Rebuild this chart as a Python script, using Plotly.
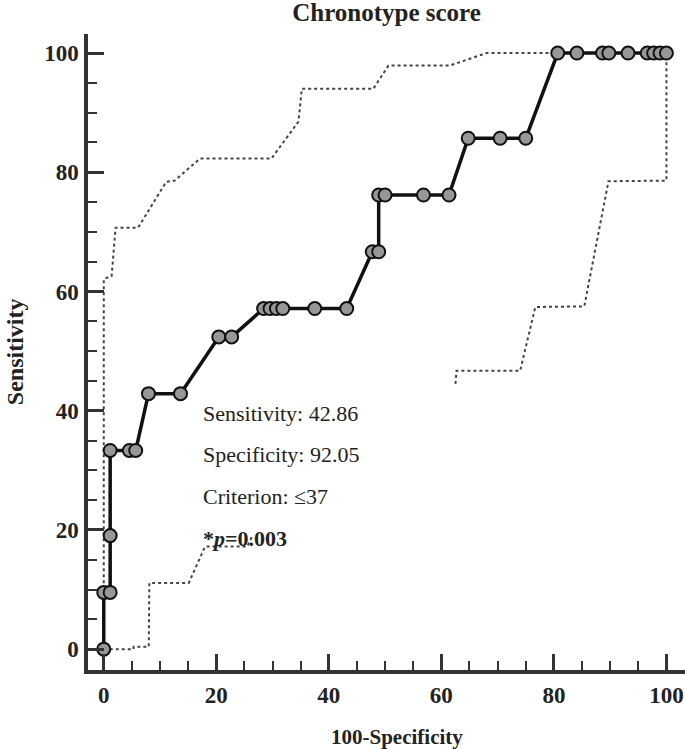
import plotly.graph_objects as go

# ROC curve (100-Specificity, Sensitivity)
roc_x = [0, 0, 1.14, 1.14, 1.14, 4.55, 5.68, 7.95, 13.64, 20.45, 22.73,
         28.41, 29.55, 30.68, 31.82, 37.5, 43.18, 47.73, 48.86, 48.86, 50.0,
         56.82, 61.36, 64.77, 70.45, 75.0, 80.68, 84.09, 88.64, 89.77, 93.18,
         96.59, 97.73, 98.86, 100]
roc_y = [0, 9.52, 9.52, 19.05, 33.33, 33.33, 33.33, 42.86, 42.86, 52.38, 52.38,
         57.14, 57.14, 57.14, 57.14, 57.14, 57.14, 66.67, 66.67, 76.19, 76.19,
         76.19, 76.19, 85.71, 85.71, 85.71, 100, 100, 100, 100, 100,
         100, 100, 100, 100]

# Upper confidence bound
upper_x = [0, 0, 1.4, 2.1, 6.1, 11.1, 12.6, 17.1, 29.8, 34.6, 35.2, 47.9,
           50.6, 61.5, 68.0, 80.0]
upper_y = [0, 62.1, 62.6, 70.7, 70.7, 78.4, 78.6, 82.3, 82.3, 88.5, 94.0, 94.0,
           97.9, 97.9, 100, 100]

# Lower confidence bound (partly hidden behind the text box)
lower_x = [0, 5.3, 5.3, 8.0, 8.1, 15.1, 18.0, 25.5, 26.4, None,
           62.5, 62.7, 74.0, 76.7, 85.4, 89.7, 100.0, 100.0]
lower_y = [0, 0, 0.4, 0.4, 11.1, 11.1, 17.2, 17.2, 19.0, None,
           44.5, 46.7, 46.7, 57.4, 57.5, 78.5, 78.6, 99.5]

stats_text = ["Sensitivity: 42.86", "Specificity: 92.05", "Criterion: \u226437",
              "<b>*<i>p</i>=0.003</b>"]
stats_y = [39.6, 32.6, 25.6, 18.6]

tick_vals = [0, 20, 40, 60, 80, 100]

SERIF = "Liberation Serif"
AX = "#333333"
TXT = "#222222"

fig = go.Figure()
fig.add_trace(go.Scatter(x=upper_x, y=upper_y, mode="lines",
                         line=dict(color="#444444", width=2, dash="dot"),
                         hoverinfo="skip", showlegend=False))
fig.add_trace(go.Scatter(x=lower_x, y=lower_y, mode="lines", connectgaps=False,
                         line=dict(color="#444444", width=2, dash="dot"),
                         hoverinfo="skip", showlegend=False))
fig.add_trace(go.Scatter(x=roc_x, y=roc_y, mode="lines+markers", cliponaxis=False,
                         line=dict(color="#111111", width=3.5),
                         marker=dict(size=13, color="#979797",
                                     line=dict(color="#111111", width=2)),
                         showlegend=False))

for t, yv in zip(stats_text, stats_y):
    fig.add_annotation(x=17.2, y=yv, text=t, showarrow=False, xanchor="left",
                       yanchor="middle", font=dict(family=SERIF, size=22, color=TXT))

fig.add_annotation(xref="paper", yref="paper", x=0.5176, y=-0.105, text="<b>100-Specificity</b>",
                   showarrow=False, xanchor="center", yanchor="middle",
                   font=dict(family=SERIF, size=21, color=TXT))
fig.add_annotation(xref="paper", yref="paper", x=-0.122, y=0.5, text="<b>Sensitivity</b>",
                   textangle=-90, showarrow=False, xanchor="center", yanchor="middle",
                   font=dict(family=SERIF, size=24, color=TXT))

axis_common = dict(showgrid=False, zeroline=False, showline=True, linecolor=AX,
                   linewidth=3.5, ticks="inside", ticklen=16, tickwidth=3, tickcolor=AX,
                   tickvals=tick_vals, ticktext=[str(v) for v in tick_vals],
                   tickfont=dict(family=SERIF, size=23, color=TXT, weight="bold"),
                   automargin=False,
                   minor=dict(dtick=5, tick0=0, ticks="inside", ticklen=9, tickwidth=2,
                              tickcolor=AX, showgrid=False))

fig.update_layout(
    width=685, height=749,
    margin=dict(l=88, r=0, t=34, b=79, autoexpand=False),
    paper_bgcolor="white", plot_bgcolor="white",
    title=dict(text="<b>Chronotype score</b>", x=0.5, xref="paper", y=1 - 12 / 749,
               yref="container", xanchor="center", yanchor="middle",
               font=dict(family=SERIF, size=25, color=TXT)),
    xaxis=dict(range=[-2.8, 103.3], ticklabelstandoff=2, **axis_common),
    yaxis=dict(range=[-3.5, 103.2], ticklabelstandoff=1, **axis_common),
)

fig.write_html("out.html", config={"displayModeBar": False},
               post_script="document.body.style.margin='0';")
